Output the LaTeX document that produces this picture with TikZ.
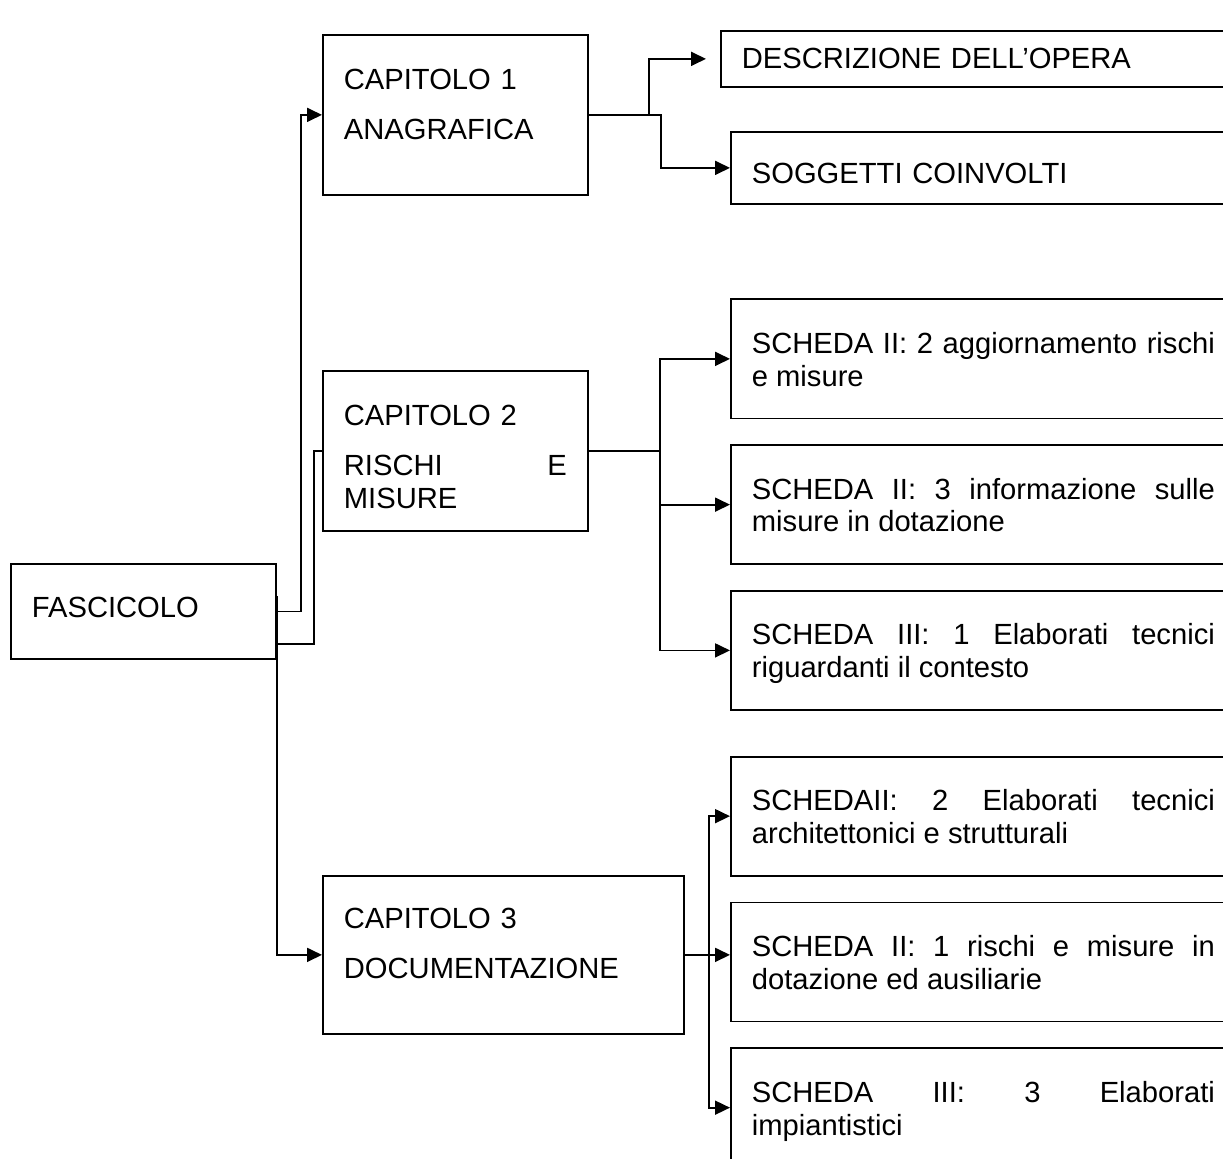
\documentclass[tikz,border=0pt]{standalone}
\usepackage{fontspec}
\setmainfont{Liberation Sans}
\usepackage{tikz}
\usetikzlibrary{positioning,arrows.meta}
\tikzstyle{box} = [rectangle, draw=black, line width=1pt, inner xsep=0.42cm, inner ysep=0pt, align=left, font=\fontsize{16.6}{18.7}\selectfont]
\tikzstyle{chapter} = [box, anchor=north west, text width=4.46cm, text height=1.1cm, text depth=2.1cm]
\tikzstyle{scheda} = [box, align=justify, text width=9.26cm, text height=1.08cm, text depth=1.3cm]
\tikzstyle{line} = [line width=1pt]
\tikzstyle{arrow} = [line, -{Triangle[length=0.3cm,width=0.28cm]}]

\begin{document}
\begin{tikzpicture}[node distance=0.5cm]
\useasboundingbox (0,0) rectangle (24.46,-23.16);
\node (fasc) [box, anchor=north west, text width=4.46cm, text height=1.08cm, text depth=0.82cm] at (0.2,-11.26) {FASCICOLO};
\node (cap1) [chapter] at (6.44,-0.68) {CAPITOLO 1\\[0.34cm]ANAGRAFICA};
\node (cap2) [chapter] at (6.44,-7.4) {CAPITOLO 2\\[0.34cm]RISCHI \hfill E\linebreak MISURE};
\node (cap3) [chapter, text width=6.38cm, text height=1.06cm] at (6.44,-17.5) {CAPITOLO 3\\[0.34cm]DOCUMENTAZIONE};
\node (desc) [box, anchor=north west, text width=9.46cm, text height=0.76cm, text depth=0.36cm] at (14.4,-0.6) {DESCRIZIONE DELL’OPERA};
\node (sogg) [box, anchor=north west, text width=9.26cm, text height=1.04cm, text depth=0.4cm] at (14.6,-2.62) {SOGGETTI COINVOLTI};
\node (s1) [scheda, anchor=north west] at (14.6,-5.97) {SCHEDA II: 2 aggiornamento rischi\linebreak e misure};
\node (s2) [scheda, below=of s1] {SCHEDA II: 3 informazione sulle\linebreak misure in dotazione};
\node (s3) [scheda, below=of s2] {SCHEDA III: 1 Elaborati tecnici\linebreak riguardanti il contesto};
\node (s4) [scheda, below=0.9cm of s3] {SCHEDAII: 2 Elaborati tecnici\linebreak architettonici e strutturali};
\node (s5) [scheda, below=of s4] {SCHEDA II: 1 rischi e misure in\linebreak dotazione ed ausiliarie};
\node (s6) [scheda, below=of s5] {SCHEDA III: 3 Elaborati\linebreak impiantistici};

\draw [arrow] (fasc.east) -- ++(0.48,0) |- (cap1.west);
\draw [line] ([yshift=-0.65cm]fasc.east) -- ++(0.74,0) |- (cap2.west);
\draw [arrow] ([yshift=0.31cm]fasc.east) |- (cap3.west);
\draw [arrow, shorten >=0.28cm] (cap1.east) -- ++(1.2,0) |- (desc.west);
\draw [arrow] (cap1.east) -- ++(1.44,0) |- (sogg.west);
\draw [arrow] (cap2.east) -- ++(1.42,0) |- (s1.west);
\draw [arrow] (cap2.east) -- ++(1.42,0) |- (s2.west);
\draw [arrow] (cap2.east) -- ++(1.42,0) |- (s3.west);
\draw [arrow] (cap3.east) -- ++(0.48,0) |- (s4.west);
\draw [arrow] (cap3.east) -- (cap3.east -| s5.west);
\draw [arrow] (cap3.east) -- ++(0.48,0) |- (s6.west);
\end{tikzpicture}
\end{document}
